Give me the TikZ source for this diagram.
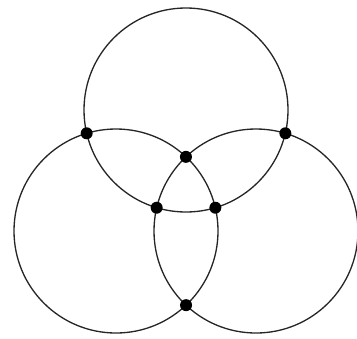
\documentclass[tikz,border=0pt]{standalone}
\usetikzlibrary{intersections}

\begin{document}
\begin{tikzpicture}[
  x=0.02cm, y=-0.02cm,
  ring/.style={draw=black!85, line width=0.75pt},
  meet/.style={circle, fill=black, inner sep=0pt, minimum size=0.24cm},
]
\useasboundingbox (0,0) rectangle (357,338);

% centres of the three equal circles
\coordinate (ctop) at (186,110);
\coordinate (clft) at (116,231);
\coordinate (crgt) at (256,231);

% the circles
\path[ring, name path=top] (ctop) circle[radius=102];
\path[ring, name path=lft] (clft) circle[radius=102];
\path[ring, name path=rgt] (crgt) circle[radius=102];

% crossing points
\path[name intersections={of=top and lft, name=tl}];
\path[name intersections={of=top and rgt, name=tr}];
\path[name intersections={of=lft and rgt, name=lr}];

\node[meet] (tl1) at (tl-1) {};
\node[meet] (tl2) at (tl-2) {};
\node[meet] (tr1) at (tr-1) {};
\node[meet] (tr2) at (tr-2) {};
\node[meet] (lr1) at (lr-1) {};
\node[meet] (lr2) at (lr-2) {};
\end{tikzpicture}
\end{document}
